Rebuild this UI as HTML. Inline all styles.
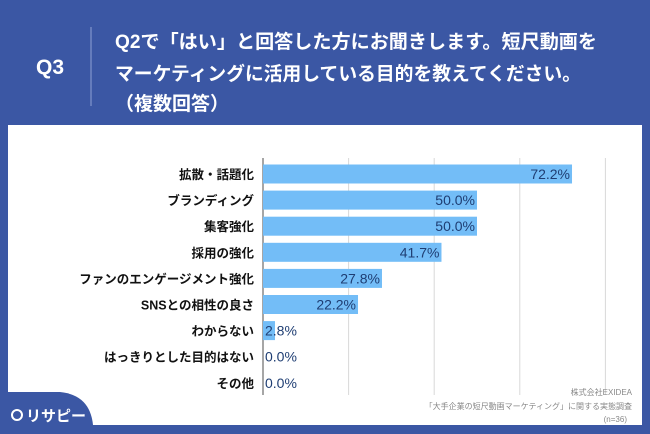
<!DOCTYPE html>
<html><head><meta charset="utf-8"><style>
html,body{margin:0;padding:0;width:650px;height:434px;overflow:hidden;background:#3b57a4;font-family:"Liberation Sans","Noto Sans CJK JP",sans-serif;}
</style></head><body>
<svg width="650" height="434" style="position:absolute;left:0;top:0">
<rect x="0" y="0" width="650" height="434" fill="#3b57a4"/>
<text x="50" y="74" fill="#fff" font-size="21" font-weight="bold" text-anchor="middle">Q3</text>
<line x1="91" y1="27" x2="91" y2="106" stroke="#8fa2d3" stroke-width="1"/>
<g fill="#fff" font-size="19" font-weight="bold">
<text x="115" y="48" textLength="482" lengthAdjust="spacingAndGlyphs">Q2で「はい」と回答した方にお聞きします。短尺動画を</text>
<text x="115" y="80" textLength="466" lengthAdjust="spacingAndGlyphs">マーケティングに活用している目的を教えてください。</text>
<text x="115" y="110">（複数回答）</text>
</g>
<rect x="8" y="125" width="634" height="300" fill="#fff"/>
<g id="grid"></g>
<g id="bars"></g>
<g fill="#888" font-size="8" text-anchor="end">
<text x="632" y="395">株式会社EXIDEA</text>
<text x="632" y="409">「大手企業の短尺動画マーケティング」に関する実態調査</text>
<text x="627" y="422">(n=36)</text>
</g>
<path d="M0,425 L0,428 L0,434 L93,434 L93,425 Q90,395 60,392 L0,392 Z" fill="#3b57a4"/>
<circle cx="17" cy="415" r="5" fill="none" stroke="#fff" stroke-width="2"/>
<text x="26" y="421" fill="#fff" font-size="15" font-weight="bold">リサピー</text>
</svg>
<script>
const categories=["拡散・話題化","ブランディング","集客強化","採用の強化","ファンのエンゲージメント強化","SNSとの相性の良さ","わからない","はっきりとした目的はない","その他"];
const values=[72.2,50.0,50.0,41.7,27.8,22.2,2.8,0.0,0.0];
const gridTicks=[20,40,60,80];
const NS="http://www.w3.org/2000/svg";
const x0=263, pxPer=4.28, y0=174, step=26.1, bh=19;
const xs=v=>x0+v*pxPer;
const ys=i=>y0+i*step;
const grid=document.getElementById('grid'), bars=document.getElementById('bars');
function mk(t,a){const e=document.createElementNS(NS,t);for(const k in a)e.setAttribute(k,a[k]);return e;}
gridTicks.forEach(t=>{
 const l=mk('line',{x1:xs(t),x2:xs(t),y1:158,y2:395,stroke:'#d8d8d8','stroke-width':1});
 
 
 grid.appendChild(l);
});
const ax=mk('line',{x1:x0,x2:x0,y1:158,y2:395,stroke:'#888','stroke-width':1.5});


grid.appendChild(ax);
categories.forEach((c,i)=>{
 const cy=ys(i);
 const r=mk('rect',{x:x0,y:cy-bh/2,width:Math.max(0,xs(values[i])-x0),height:bh,fill:'#73bdf7'});
 
 
 bars.appendChild(r);
 const lb=mk('text',{x:254,y:cy+5,'text-anchor':'end','font-size':12.5,'font-weight':'bold',fill:'#111'});
 lb.textContent=c;
 
 
 bars.appendChild(lb);
 const big=values[i]>10;
 const vl=mk('text',{x:big?xs(values[i])-2:x0+2,y:cy+5,'text-anchor':big?'end':'start','font-size':14,fill:'#1f3e73'});
 vl.textContent=values[i].toFixed(1)+'%';
 
 
 bars.appendChild(vl);
});
</script>
</body></html>
